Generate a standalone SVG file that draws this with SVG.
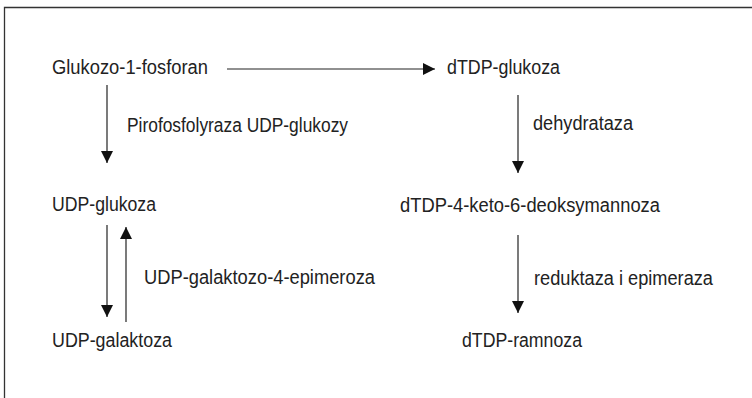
<svg xmlns="http://www.w3.org/2000/svg" width="752" height="398" viewBox="0 0 752 398">
<defs>
<marker id="ah" viewBox="0 0 12 12" refX="12" refY="6" markerWidth="12" markerHeight="12" markerUnits="userSpaceOnUse" orient="auto">
<path d="M0,0 L12,6 L0,12 Z" fill="#111"/>
</marker>
<style>
.t{font-family:"Liberation Sans",Arial,sans-serif;font-size:19.5px;fill:#222}
.c{stroke:#222;stroke-width:1.2;fill:none;marker-end:url(#ah)}
.frame{stroke:#333;stroke-width:1.3;fill:none}
</style>
</defs>
<rect width="752" height="398" fill="#fff"/>
<path class="frame" d="M4.5,398 L4.5,7.5 L752,7.5"/>
<g id="n1"><text class="t" x="52" y="74" textLength="156" lengthAdjust="spacingAndGlyphs">Glukozo-1-fosforan</text></g>
<g id="n2"><text class="t" x="447" y="74" textLength="113" lengthAdjust="spacingAndGlyphs">dTDP-glukoza</text></g>
<g id="n3"><text class="t" x="52" y="211" textLength="104" lengthAdjust="spacingAndGlyphs">UDP-glukoza</text></g>
<g id="n4"><text class="t" x="400" y="212" textLength="260" lengthAdjust="spacingAndGlyphs">dTDP-4-keto-6-deoksymannoza</text></g>
<g id="n5"><text class="t" x="52" y="347" textLength="120" lengthAdjust="spacingAndGlyphs">UDP-galaktoza</text></g>
<g id="n6"><text class="t" x="462" y="347" textLength="120" lengthAdjust="spacingAndGlyphs">dTDP-ramnoza</text></g>
<g id="labels">
<text class="t" x="127" y="132" textLength="221" lengthAdjust="spacingAndGlyphs">Pirofosfolyraza UDP-glukozy</text>
<text class="t" x="533" y="130" textLength="100" lengthAdjust="spacingAndGlyphs">dehydrataza</text>
<text class="t" x="144" y="284" textLength="231" lengthAdjust="spacingAndGlyphs">UDP-galaktozo-4-epimeroza</text>
<text class="t" x="534" y="285" textLength="179" lengthAdjust="spacingAndGlyphs">reduktaza i epimeraza</text>
</g>
<g id="connectors">
<line class="c" x1="227" y1="69" x2="435" y2="69"/>
<line class="c" x1="107" y1="85" x2="107" y2="163"/>
<line class="c" x1="518" y1="95" x2="518" y2="173"/>
<line class="c" x1="107" y1="225" x2="107" y2="317"/>
<line class="c" x1="126" y1="322" x2="126" y2="227"/>
<line class="c" x1="518" y1="235" x2="518" y2="313"/>
</g>
</svg>
